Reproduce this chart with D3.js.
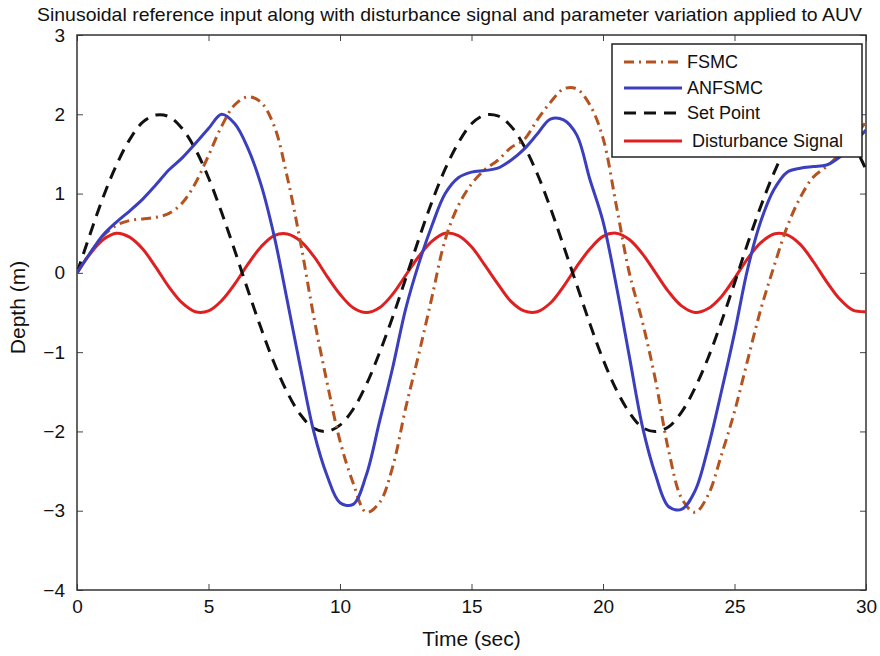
<!DOCTYPE html>
<html>
<head>
<meta charset="utf-8">
<script src="https://cdn.jsdelivr.net/npm/d3@7"></script>
<style>
  body { margin: 0; background: #fff; }
  text { font-family: "Liberation Sans Narrow", "Arial Narrow", "Liberation Sans", Arial, sans-serif; fill: #111; }
</style>
</head>
<body>
<div id="chart"></div>
<script>
const w = 880,
      h = 656;

const margin = {top: 35, right: 14, bottom: 66, left: 77};

// time axis, every 0.5 s
const time = d3.range(0, 30.01, 0.5);

const fsmc = [0, 0.25, 0.47, 0.6, 0.66, 0.68, 0.7, 0.75, 0.88, 1.13, 1.48, 1.85, 2.12, 2.22, 2.15, 1.85,
  1.2, 0.38, -0.55, -1.37, -2.12, -2.65, -3.02, -2.9, -2.45, -1.7, -1.02, -0.3, 0.42, 0.85, 1.12,
  1.3, 1.42, 1.58, 1.68, 1.93, 2.15, 2.32, 2.32, 2.12, 1.7, 0.86, 0.0, -0.62, -1.36, -2.25, -2.85,
  -3.02, -2.8, -2.3, -1.75, -1.1, -0.46, 0.08, 0.58, 0.95, 1.21, 1.34, 1.5, 1.7, 1.9];

const anfsmc = [0, 0.25, 0.48, 0.64, 0.78, 0.93, 1.11, 1.3, 1.45, 1.63, 1.82, 2.0, 1.88, 1.57, 1.11,
  0.46, -0.36, -1.2, -2.0, -2.55, -2.9, -2.92, -2.55, -1.88, -1.2, -0.45, 0.12, 0.6, 1.0, 1.2, 1.27,
  1.29, 1.32, 1.42, 1.56, 1.75, 1.94, 1.93, 1.74, 1.18, 0.65, -0.15, -1.05, -1.94, -2.55, -2.95,
  -2.98, -2.75, -2.2, -1.5, -0.76, 0.05, 0.65, 1.05, 1.27, 1.32, 1.34, 1.36, 1.46, 1.63, 1.8];

const setPoint = [0, 0.49, 0.96, 1.36, 1.68, 1.9, 1.99, 1.97, 1.82, 1.56, 1.2, 0.76, 0.28, -0.22, -0.7,
  -1.14, -1.51, -1.79, -1.96, -2.0, -1.92, -1.72, -1.41, -1.01, -0.56, -0.07, 0.43, 0.9, 1.31, 1.64,
  1.88, 1.99, 1.98, 1.85, 1.6, 1.25, 0.82, 0.34, -0.15, -0.64, -1.09, -1.47, -1.76, -1.95, -2.0,
  -1.94, -1.75, -1.45, -1.07, -0.62, -0.13, 0.37, 0.84, 1.26, 1.61, 1.86, 1.98, 1.99, 1.87, 1.64, 1.3];

const disturbance = [0, 0.24, 0.42, 0.5, 0.45, 0.3, 0.07, -0.18, -0.38, -0.49, -0.48, -0.35, -0.14,
  0.11, 0.33, 0.47, 0.49, 0.4, 0.21, -0.04, -0.27, -0.44, -0.5, -0.44, -0.27, -0.03, 0.21, 0.4, 0.5,
  0.47, 0.33, 0.1, -0.14, -0.36, -0.48, -0.49, -0.38, -0.17, 0.08, 0.3, 0.46, 0.5, 0.42, 0.24, 0.0,
  -0.24, -0.42, -0.5, -0.45, -0.3, -0.07, 0.18, 0.38, 0.49, 0.48, 0.36, 0.14, -0.11, -0.33, -0.47, -0.49];

const xTicks = [0, 5, 10, 15, 20, 25, 30];
const yTicks = [-4, -3, -2, -1, 0, 1, 2, 3];

const seriesNames = ["FSMC", "ANFSMC", "Set Point", " Disturbance Signal"];
const seriesColors = ["#b4531f", "#3b3fbd", "#111111", "#e02020"];
const seriesDash = ["10,5,2,5", null, "12,8", null];
const seriesData = [fsmc, anfsmc, setPoint, disturbance];

const iw = w - margin.left - margin.right,
      ih = h - margin.top - margin.bottom;

const svg = d3.select("#chart")
  .append("svg")
  .attr("width", w)
  .attr("height", h)
  .append("g")
  .attr("transform", "translate(" + margin.left + "," + margin.top + ")");

const x = d3.scaleLinear().domain([0, 30]).range([0, iw]);
const y = d3.scaleLinear().domain([-4, 3]).range([ih, 0]);

svg.append("defs").append("clipPath").attr("id", "clip")
  .append("rect").attr("width", iw).attr("height", ih);

// inward ticks on all four sides, matlab style
svg.append("g")
  .attr("transform", "translate(0," + ih + ")")
  .call(d3.axisBottom(x).tickValues(xTicks).tickSizeInner(-6).tickSizeOuter(0).tickPadding(10))
  .call(g => g.selectAll("text").style("font-size", "19px"));
svg.append("g")
  .call(d3.axisTop(x).tickValues(xTicks).tickSizeInner(-6).tickSizeOuter(0).tickFormat(""));
svg.append("g")
  .call(d3.axisLeft(y).tickValues(yTicks).tickSizeInner(-6).tickSizeOuter(0).tickPadding(12)
    .tickFormat(d => d < 0 ? "\u2212" + Math.abs(d) : d))
  .call(g => g.selectAll("text").style("font-size", "19px"));
svg.append("g")
  .attr("transform", "translate(" + iw + ",0)")
  .call(d3.axisRight(y).tickValues(yTicks).tickSizeInner(-6).tickSizeOuter(0).tickFormat(""));

svg.selectAll(".domain").remove();
svg.selectAll(".tick line").attr("stroke", "#444");

svg.append("rect")
  .attr("width", iw)
  .attr("height", ih)
  .attr("fill", "none")
  .attr("stroke", "#333")
  .attr("stroke-width", 1.5);

const line = d3.line()
  .x((d, i) => x(time[i]))
  .y(d => y(d))
  .curve(d3.curveCatmullRom);

// draw order: disturbance underneath, then set point, fsmc, anfsmc
[3, 2, 0, 1].forEach(k => {
  svg.append("path")
    .datum(seriesData[k])
    .attr("clip-path", "url(#clip)")
    .attr("fill", "none")
    .attr("stroke", seriesColors[k])
    .attr("stroke-width", 3)
    .attr("stroke-dasharray", seriesDash[k])
    .attr("d", line);
});

// legend
const lg = svg.append("g").attr("transform", "translate(" + (612 - margin.left) + "," + (44 - margin.top) + ")");
lg.append("rect")
  .attr("width", 250)
  .attr("height", 113)
  .attr("fill", "#fff")
  .attr("stroke", "#222")
  .attr("stroke-width", 1.5);

const rowY = [18, 44, 69, 97];
seriesNames.forEach((name, i) => {
  lg.append("line")
    .attr("x1", 12).attr("x2", 70)
    .attr("y1", rowY[i]).attr("y2", rowY[i])
    .attr("stroke", seriesColors[i])
    .attr("stroke-width", 3)
    .attr("stroke-dasharray", seriesDash[i]);
  lg.append("text")
    .attr("x", 75)
    .attr("y", rowY[i] + 6)
    .style("font-size", "18px")
    .style("white-space", "pre")
    .text(name);
});

// title and axis labels
svg.append("text")
  .attr("x", 37 - margin.left)
  .attr("y", -14)
  .attr("textLength", 825)
  .attr("lengthAdjust", "spacingAndGlyphs")
  .style("font-size", "19px")
  .text("Sinusoidal reference input along with disturbance signal and parameter variation applied to AUV");

svg.append("text")
  .attr("x", iw / 2)
  .attr("y", ih + 56)
  .attr("text-anchor", "middle")
  .style("font-size", "21px")
  .text("Time (sec)");

svg.append("text")
  .attr("transform", "rotate(-90)")
  .attr("x", -(ih / 2) + 5)
  .attr("y", -52)
  .attr("text-anchor", "middle")
  .style("font-size", "21px")
  .text("Depth (m)");
</script>
</body>
</html>
